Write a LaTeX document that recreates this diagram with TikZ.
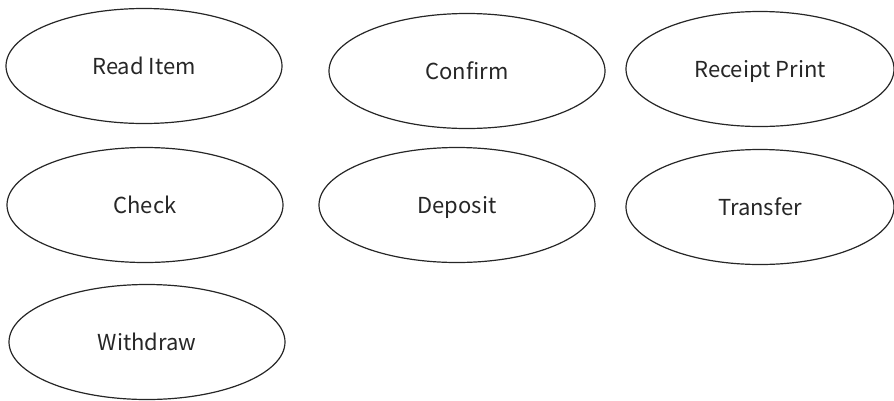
\documentclass[tikz,border=0pt]{standalone}
\usepackage{fontspec}
\setmainfont{Noto Sans CJK KR}
\usetikzlibrary{shapes.geometric}

\begin{document}
\begin{tikzpicture}
  [x=1pt, y=-1pt,
   usecase/.style={ellipse, draw=black!85, line width=1.2pt, inner sep=0pt,
     minimum width=276pt, minimum height=115pt, text height=16pt, text depth=0pt,
     font=\fontsize{22}{26}\selectfont, text=black!85}]
  \useasboundingbox (0, 0) rectangle (894, 400);
  \node (read) at (144, 66) [usecase] {Read Item};
  \node (confirm) at (467, 71) [usecase] {Confirm};
  \node (receipt) at (760, 69) [usecase, minimum width=268pt] {Receipt Print};
  \node (check) at (145, 205) [usecase] {Check};
  \node (deposit) at (457, 205) [usecase] {Deposit};
  \node (transfer) at (760, 207) [usecase, minimum width=268pt] {Transfer};
  \node (withdraw) at (147, 342) [usecase] {Withdraw};
\end{tikzpicture}
\end{document}
